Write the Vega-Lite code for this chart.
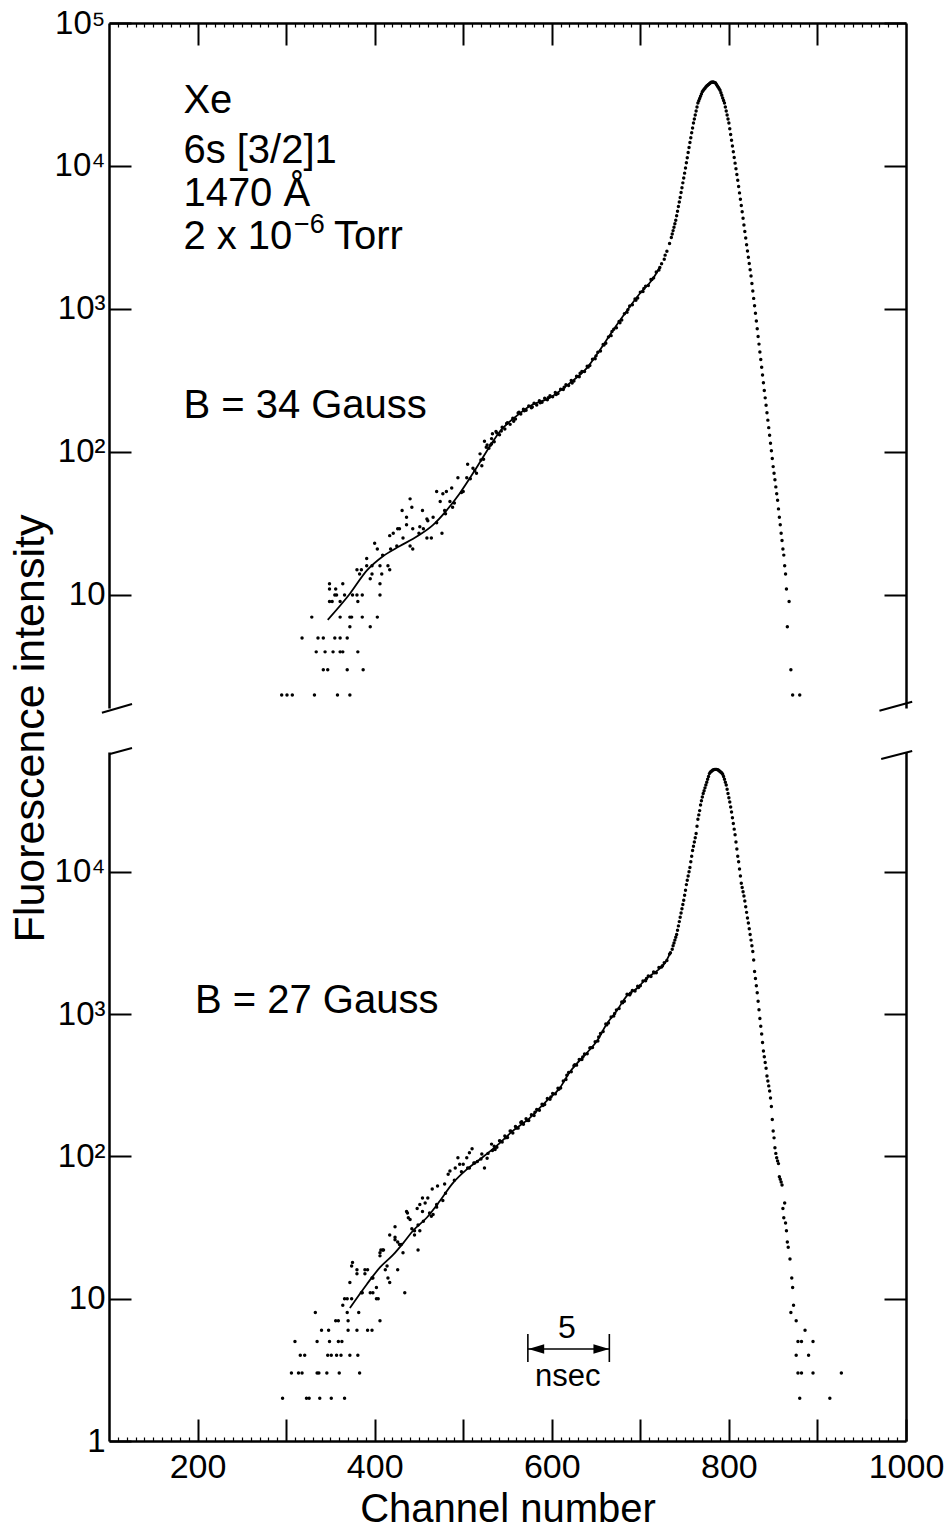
{
  "$schema": "https://vega.github.io/schema/vega-lite/v6.json",
  "background": "white",
  "padding": {"left": 9, "top": 7, "right": 5, "bottom": 5},
  "config": {
    "view": {"stroke": null},
    "font": "Liberation Sans",
    "axis": {
      "domainColor": "black", "domainWidth": 2.5, "tickColor": "black", "tickWidth": 2,
      "labelColor": "black", "titleColor": "black", "labelFont": "Liberation Sans", "titleFont": "Liberation Sans",
      "titleFontWeight": "normal", "grid": false, "labelFlush": false, "labelOverlap": false
    },
    "text": {"font": "Liberation Sans", "color": "black"}
  },
  "datasets": {
    "tp": [
      {"c":295,"v":2},{"c":301,"v":2},{"c":307,"v":2},{"c":332,"v":2},{"c":358,"v":2},{"c":372,"v":2},
      {"c":342,"v":3},{"c":347,"v":3},{"c":369,"v":3},{"c":387,"v":3},
      {"c":334,"v":4},{"c":344,"v":4},{"c":353,"v":4},{"c":361,"v":4},{"c":364,"v":4},{"c":381,"v":4},
      {"c":318,"v":5},{"c":336,"v":5},{"c":342,"v":5},{"c":355,"v":5},{"c":361,"v":5},{"c":369,"v":5},
      {"c":372,"v":6},{"c":395,"v":6},
      {"c":329,"v":7},{"c":361,"v":7},{"c":372,"v":7},{"c":374,"v":7},{"c":386,"v":7},{"c":403,"v":7},
      {"c":349,"v":9},{"c":361,"v":9},{"c":381,"v":9},{"c":352,"v":9},
      {"c":355,"v":10},{"c":357,"v":10},{"c":380,"v":10},{"c":386,"v":10},{"c":375,"v":10},{"c":366,"v":10},{"c":406,"v":10},
      {"c":349,"v":11},{"c":356,"v":11},{"c":406,"v":12},{"c":349,"v":12},{"c":364,"v":12},
      {"c":380,"v":15},{"c":383,"v":14},{"c":391,"v":16},{"c":397,"v":16},{"c":391,"v":18},{"c":403,"v":21},{"c":400,"v":23},
      {"c":395,"v":13},{"c":397,"v":14},{"c":406,"v":16},{"c":408,"v":14},{"c":415,"v":16},{"c":417,"v":15},{"c":409,"v":19},
      {"c":417,"v":26},{"c":421,"v":27},{"c":426,"v":29},{"c":428,"v":29},{"c":432,"v":25},{"c":436,"v":31},{"c":431,"v":39},
      {"c":440,"v":47},{"c":442,"v":41},{"c":436,"v":35},{"c":443,"v":29},{"c":443,"v":21},{"c":440,"v":22},{"c":451,"v":30},
      {"c":454,"v":39},{"c":459,"v":34},{"c":459,"v":25},{"c":464,"v":25},{"c":466,"v":35},{"c":470,"v":53},{"c":474,"v":45},
      {"c":477,"v":51},{"c":481,"v":53},{"c":485,"v":45},{"c":487,"v":56},{"c":476,"v":27},{"c":479,"v":39},{"c":488,"v":41},
      {"c":494,"v":66},{"c":500,"v":53},{"c":504,"v":66},{"c":511,"v":77},{"c":505,"v":82},{"c":519,"v":97},{"c":524,"v":119},
      {"c":532,"v":114},{"c":533,"v":134},{"c":515,"v":71},
      {"c":450,"v":27},{"c":460,"v":33},{"c":470,"v":32},{"c":480,"v":37},{"c":490,"v":44},{"c":498,"v":52},{"c":508,"v":65},
      {"c":513,"v":74},{"c":385,"v":15},{"c":418,"v":21},{"c":425,"v":22},{"c":455,"v":29},
      {"c":520,"v":88},{"c":523,"v":89},{"c":526,"v":108},{"c":529,"v":106},{"c":532,"v":124},{"c":535,"v":118},{"c":538,"v":136},
      {"c":541,"v":132},{"c":544,"v":149},{"c":547,"v":145},{"c":550,"v":160},{"c":553,"v":156},{"c":556,"v":172},{"c":559,"v":170},
      {"c":562,"v":187},{"c":565,"v":184},{"c":568,"v":199},{"c":571,"v":196},{"c":574,"v":210},{"c":577,"v":204},{"c":580,"v":219},
      {"c":583,"v":213},{"c":586,"v":228},{"c":589,"v":223},{"c":592,"v":238},{"c":595,"v":232},{"c":598,"v":247},{"c":601,"v":243},
      {"c":604,"v":261},{"c":607,"v":256},{"c":610,"v":275},{"c":613,"v":273},{"c":616,"v":295},{"c":619,"v":292},{"c":622,"v":316},
      {"c":625,"v":313},{"c":628,"v":339},{"c":631,"v":336},{"c":634,"v":366},{"c":637,"v":365},{"c":640,"v":398},{"c":643,"v":402},
      {"c":646,"v":445},{"c":649,"v":449},{"c":652,"v":499},{"c":655,"v":508},{"c":658,"v":564},{"c":661,"v":575},{"c":664,"v":638},
      {"c":667,"v":651},{"c":670,"v":722},{"c":673,"v":738},{"c":676,"v":818},{"c":679,"v":836},{"c":682,"v":926},{"c":685,"v":947},
      {"c":688,"v":1048},{"c":691,"v":1070},{"c":694,"v":1176},{"c":697,"v":1195},{"c":700,"v":1312},{"c":703,"v":1326},{"c":706,"v":1445},
      {"c":709,"v":1460},{"c":712,"v":1605},{"c":715,"v":1650},{"c":718,"v":1815},{"c":721,"v":1875},{"c":724,"v":2070},{"c":727,"v":2230},
      {"c":730,"v":2530},{"c":733,"v":2870},
      {"c":521,"v":80},{"c":527,"v":112},{"c":531,"v":112},{"c":537,"v":139},{"c":543,"v":140},{"c":549,"v":158},{"c":557,"v":164},
      {"c":563,"v":190},{"c":569,"v":194},{"c":578,"v":206},{"c":587,"v":221},{"c":596,"v":240},{"c":605,"v":252},{"c":614,"v":284},
      {"c":623,"v":304},{"c":632,"v":355},{"c":641,"v":392},{"c":650,"v":470},{"c":659,"v":560},{"c":668,"v":695},{"c":677,"v":800},
      {"c":686,"v":990},{"c":695,"v":1150},{"c":704,"v":1390},{"c":713,"v":1610},{"c":722,"v":1950},{"c":728,"v":2380},
      {"c":735,"v":3162},{"c":736,"v":3342},{"c":737,"v":3532},{"c":738,"v":3733},{"c":739,"v":3945},{"c":740,"v":4169},{"c":741,"v":4487},
      {"c":742,"v":4831},{"c":743,"v":5200},{"c":744,"v":5598},{"c":745,"v":6026},{"c":746,"v":6516},{"c":747,"v":7047},{"c":748,"v":7621},
      {"c":749,"v":8241},{"c":750,"v":8913},{"c":751,"v":9683},{"c":752,"v":10520},{"c":753,"v":11430},{"c":754,"v":12420},{"c":755,"v":13490},
      {"c":756,"v":14590},{"c":757,"v":15780},{"c":758,"v":17060},{"c":759,"v":18450},{"c":760,"v":19950},{"c":761,"v":21280},{"c":762,"v":22700},
      {"c":763,"v":24210},{"c":764,"v":25820},{"c":765,"v":27540},{"c":766,"v":28580},{"c":767,"v":29650},{"c":768,"v":30760},{"c":769,"v":31920},
      {"c":770,"v":33110},{"c":771,"v":33730},{"c":772,"v":34360},{"c":773,"v":34990},{"c":774,"v":35650},{"c":775,"v":36310},{"c":776,"v":36730},
      {"c":777,"v":37150},{"c":778,"v":37580},{"c":779,"v":38020},{"c":780,"v":38460},{"c":781,"v":38550},{"c":782,"v":38640},{"c":783,"v":38460},
      {"c":784,"v":38280},{"c":785,"v":38020},{"c":786,"v":37150},{"c":787,"v":36310},{"c":788,"v":35480},{"c":789,"v":34670},{"c":790,"v":33880},
      {"c":791,"v":32510},{"c":792,"v":31190},{"c":793,"v":29920},{"c":794,"v":28710},{"c":795,"v":27540},{"c":796,"v":25820},{"c":797,"v":24210},
      {"c":798,"v":22700},{"c":799,"v":21280},{"c":800,"v":19950},{"c":801,"v":18200},{"c":802,"v":16600},{"c":803,"v":15140},{"c":804,"v":13800},
      {"c":805,"v":12590},{"c":806,"v":11480},{"c":807,"v":10470},{"c":808,"v":9550},{"c":809,"v":8710},{"c":810,"v":7943},{"c":811,"v":7178},
      {"c":812,"v":6486},{"c":813,"v":5861},{"c":814,"v":5297},{"c":815,"v":4786},{"c":816,"v":4305},{"c":817,"v":3873},{"c":818,"v":3483},
      {"c":819,"v":3133},{"c":820,"v":2818},{"c":821,"v":2547},{"c":822,"v":2301},{"c":823,"v":2080},{"c":824,"v":1879},{"c":825,"v":1698},
      {"c":826,"v":1507},{"c":827,"v":1337},{"c":828,"v":1186},{"c":829,"v":1052},{"c":830,"v":933},{"c":831,"v":824},{"c":832,"v":728},
      {"c":833,"v":643},{"c":834,"v":568},{"c":835,"v":501},{"c":836,"v":443},{"c":837,"v":391},{"c":838,"v":345},{"c":839,"v":305},
      {"c":840,"v":269},{"c":841,"v":239},{"c":842,"v":212},{"c":843,"v":188},{"c":844,"v":167},{"c":845,"v":148},{"c":846,"v":131},
      {"c":847,"v":115},{"c":848,"v":102},{"c":849,"v":90},{"c":850,"v":79},{"c":851,"v":71},{"c":852,"v":64},{"c":853,"v":57},
      {"c":854,"v":51},{"c":855,"v":46},{"c":856,"v":40},{"c":857,"v":35},{"c":858,"v":31},{"c":859,"v":27},{"c":860,"v":24},
      {"c":861,"v":21},{"c":862,"v":19},{"c":863,"v":16},{"c":864,"v":14},
      {"c":865,"v":11},{"c":866,"v":6},{"c":868,"v":9},{"c":870,"v":3},{"c":872,"v":2},{"c":880,"v":2}
    ],
    "tf": [
      {"c":347,"v":6.7},{"c":372,"v":10.2},{"c":391,"v":14.8},{"c":409,"v":18.6},{"c":428,"v":21.9},{"c":448,"v":25.7},
      {"c":466,"v":30.9},{"c":481,"v":38.9},{"c":496,"v":51.3},{"c":515,"v":77.6},{"c":533,"v":117},{"c":541,"v":138},
      {"c":560,"v":178},{"c":575,"v":209},{"c":598,"v":240},{"c":620,"v":302},{"c":640,"v":389},{"c":654,"v":513},
      {"c":669,"v":708},{"c":685,"v":977},{"c":699,"v":1274},{"c":714,"v":1622},{"c":722,"v":1950}
    ],
    "bp": [
      {"c":296,"v":2},{"c":323,"v":2},{"c":326,"v":2},{"c":338,"v":2},{"c":351,"v":2},{"c":366,"v":2},
      {"c":306,"v":3},{"c":314,"v":3},{"c":318,"v":3},{"c":335,"v":3},{"c":337,"v":3},{"c":346,"v":3},{"c":360,"v":3},{"c":383,"v":3},
      {"c":316,"v":4},{"c":321,"v":4},{"c":347,"v":4},{"c":351,"v":4},{"c":357,"v":4},{"c":362,"v":4},{"c":372,"v":4},{"c":381,"v":4},
      {"c":310,"v":5},{"c":335,"v":5},{"c":349,"v":5},{"c":359,"v":5},{"c":363,"v":5},
      {"c":340,"v":6},{"c":348,"v":6},{"c":370,"v":6},{"c":380,"v":6},{"c":392,"v":6},{"c":397,"v":6},
      {"c":356,"v":7},{"c":359,"v":7},{"c":370,"v":7},{"c":406,"v":7},
      {"c":333,"v":8},{"c":369,"v":8},{"c":382,"v":8},{"c":364,"v":9},
      {"c":366,"v":10},{"c":369,"v":10},{"c":374,"v":10},{"c":402,"v":10},{"c":404,"v":10},
      {"c":386,"v":11},{"c":395,"v":11},{"c":398,"v":11},{"c":434,"v":11},{"c":385,"v":11},
      {"c":372,"v":13},{"c":375,"v":18},{"c":380,"v":16},{"c":389,"v":16},{"c":392,"v":16},{"c":397,"v":14},{"c":402,"v":12},
      {"c":415,"v":14},{"c":417,"v":13},{"c":412,"v":16},{"c":406,"v":20},{"c":409,"v":22},{"c":410,"v":22},{"c":417,"v":28},
      {"c":423,"v":27},{"c":426,"v":25},{"c":428,"v":24},{"c":436,"v":41},{"c":440,"v":36},{"c":442,"v":31},{"c":448,"v":43},
      {"c":449,"v":33},{"c":451,"v":30},{"c":449,"v":22},{"c":445,"v":28},{"c":454,"v":41},{"c":457,"v":47},{"c":460,"v":51},
      {"c":465,"v":59},{"c":466,"v":39},{"c":470,"v":44},{"c":477,"v":49},{"c":479,"v":64},{"c":471,"v":62},{"c":483,"v":75},
      {"c":491,"v":83},{"c":494,"v":98},{"c":500,"v":88},{"c":504,"v":98},{"c":505,"v":83},{"c":510,"v":113},{"c":513,"v":90},
      {"c":516,"v":92},{"c":521,"v":104},{"c":524,"v":83},{"c":527,"v":97},{"c":532,"v":122},{"c":533,"v":110},{"c":374,"v":17},
      {"c":380,"v":15},{"c":389,"v":15},{"c":406,"v":21},{"c":407,"v":22},{"c":414,"v":17},{"c":423,"v":32},{"c":423,"v":26},
      {"c":426,"v":16},{"c":432,"v":21},{"c":437,"v":40},{"c":438,"v":37},{"c":451,"v":46},{"c":454,"v":51},{"c":464,"v":38},
      {"c":485,"v":79},{"c":496,"v":88},{"c":507,"v":106},{"c":507,"v":83},
      {"c":398,"v":14},{"c":430,"v":24},{"c":445,"v":30},{"c":455,"v":35},{"c":462,"v":40},{"c":470,"v":46},{"c":480,"v":55},
      {"c":490,"v":68},{"c":498,"v":78},{"c":512,"v":90},{"c":520,"v":96},{"c":528,"v":105},
      {"c":535,"v":118},{"c":538,"v":116},{"c":541,"v":129},{"c":544,"v":126},{"c":547,"v":139},{"c":550,"v":136},{"c":553,"v":151},
      {"c":556,"v":146},{"c":559,"v":162},{"c":562,"v":158},{"c":565,"v":173},{"c":568,"v":168},{"c":571,"v":184},{"c":574,"v":179},
      {"c":577,"v":196},{"c":580,"v":194},{"c":583,"v":214},{"c":586,"v":211},{"c":589,"v":233},{"c":592,"v":232},{"c":595,"v":255},
      {"c":598,"v":252},{"c":601,"v":277},{"c":604,"v":275},{"c":607,"v":301},{"c":610,"v":302},{"c":613,"v":339},{"c":616,"v":347},
      {"c":619,"v":389},{"c":622,"v":394},{"c":625,"v":434},{"c":628,"v":438},{"c":631,"v":479},{"c":634,"v":479},{"c":637,"v":525},
      {"c":640,"v":526},{"c":643,"v":578},{"c":646,"v":582},{"c":649,"v":640},{"c":652,"v":648},{"c":655,"v":730},{"c":658,"v":755},
      {"c":661,"v":851},{"c":664,"v":865},{"c":667,"v":954},{"c":670,"v":968},{"c":673,"v":1071},{"c":676,"v":1094},{"c":679,"v":1216},
      {"c":682,"v":1233},{"c":685,"v":1380},{"c":688,"v":1365},{"c":691,"v":1468},{"c":694,"v":1453},{"c":697,"v":1570},{"c":700,"v":1580},
      {"c":703,"v":1712},{"c":706,"v":1718},{"c":709,"v":1855},{"c":712,"v":1838},{"c":715,"v":1975},{"c":718,"v":1955},{"c":721,"v":2125},
      {"c":724,"v":2140},{"c":727,"v":2300},{"c":730,"v":2380},{"c":733,"v":2640},{"c":736,"v":2860},
      {"c":536,"v":112},{"c":542,"v":128},{"c":548,"v":135},{"c":554,"v":150},{"c":560,"v":158},{"c":566,"v":175},{"c":572,"v":179},
      {"c":581,"v":204},{"c":590,"v":228},{"c":599,"v":262},{"c":608,"v":296},{"c":617,"v":372},{"c":626,"v":441},{"c":635,"v":500},
      {"c":644,"v":580},{"c":653,"v":690},{"c":662,"v":840},{"c":671,"v":1010},{"c":680,"v":1200},{"c":689,"v":1400},{"c":698,"v":1540},
      {"c":707,"v":1780},{"c":716,"v":1950},{"c":725,"v":2190},{"c":734,"v":2700},
      {"c":737,"v":3020},{"c":738,"v":3162},{"c":739,"v":3311},{"c":740,"v":3467},{"c":741,"v":3631},{"c":742,"v":3890},{"c":743,"v":4169},
      {"c":744,"v":4467},{"c":745,"v":4786},{"c":746,"v":5129},{"c":747,"v":5495},{"c":748,"v":5888},{"c":749,"v":6310},{"c":750,"v":6839},
      {"c":751,"v":7413},{"c":752,"v":8128},{"c":753,"v":8710},{"c":754,"v":9333},{"c":755,"v":10000},{"c":756,"v":10720},{"c":757,"v":11750},
      {"c":758,"v":12880},{"c":759,"v":14130},{"c":760,"v":15140},{"c":761,"v":16220},{"c":762,"v":17380},{"c":763,"v":18620},{"c":764,"v":20890},
      {"c":765,"v":23440},{"c":766,"v":25120},{"c":767,"v":26920},{"c":768,"v":29510},{"c":769,"v":31620},{"c":770,"v":33500},{"c":771,"v":35480},
      {"c":772,"v":37150},{"c":773,"v":38900},{"c":774,"v":40740},{"c":775,"v":42660},{"c":776,"v":44670},{"c":777,"v":46770},{"c":778,"v":48980},
      {"c":779,"v":50120},{"c":780,"v":50700},{"c":781,"v":51290},{"c":782,"v":51880},{"c":783,"v":52240},{"c":784,"v":52480},{"c":785,"v":52480},
      {"c":786,"v":52480},{"c":787,"v":52240},{"c":788,"v":51880},{"c":789,"v":51290},{"c":790,"v":50700},{"c":791,"v":50120},{"c":792,"v":49550},
      {"c":793,"v":48420},{"c":794,"v":46770},{"c":795,"v":44670},{"c":796,"v":42660},{"c":797,"v":40740},{"c":798,"v":38020},{"c":799,"v":35480},
      {"c":800,"v":33110},{"c":801,"v":30900},{"c":802,"v":28510},{"c":803,"v":26300},{"c":804,"v":23990},{"c":805,"v":21880},{"c":806,"v":19950},
      {"c":807,"v":18200},{"c":808,"v":16220},{"c":809,"v":14450},{"c":810,"v":12880},{"c":811,"v":11750},{"c":812,"v":10470},{"c":813,"v":9333},
      {"c":814,"v":8318},{"c":815,"v":7762},{"c":816,"v":7244},{"c":817,"v":6761},{"c":818,"v":6237},{"c":819,"v":5689},{"c":820,"v":5188},
      {"c":821,"v":4732},{"c":822,"v":4365},{"c":823,"v":3981},{"c":824,"v":3631},{"c":825,"v":3311},{"c":826,"v":3020},{"c":827,"v":2754},
      {"c":828,"v":2399},{"c":829,"v":1995},{"c":830,"v":1778},{"c":831,"v":1585},{"c":832,"v":1413},{"c":833,"v":1230},{"c":834,"v":1072},
      {"c":835,"v":933},{"c":836,"v":822},{"c":837,"v":724},{"c":838,"v":631},{"c":839,"v":550},{"c":840,"v":501},{"c":841,"v":457},
      {"c":842,"v":417},{"c":843,"v":367},{"c":844,"v":339},{"c":845,"v":313},{"c":846,"v":288},{"c":847,"v":257},{"c":848,"v":224},
      {"c":849,"v":182},{"c":850,"v":151},{"c":851,"v":135},{"c":852,"v":115},{"c":853,"v":105},{"c":854,"v":98},{"c":855,"v":93},
      {"c":856,"v":89},{"c":857,"v":72},{"c":858,"v":69},{"c":859,"v":66},{"c":860,"v":63},{"c":861,"v":43},{"c":862,"v":37},
      {"c":863,"v":47},{"c":864,"v":34},{"c":865,"v":30},{"c":866,"v":25},{"c":867,"v":23},{"c":869,"v":19},{"c":871,"v":14},{"c":872,"v":12},
      {"c":873,"v":9},{"c":870,"v":8},{"c":876,"v":7},{"c":886,"v":6},{"c":878,"v":5},{"c":882,"v":5},{"c":895,"v":5},
      {"c":876,"v":4},{"c":890,"v":4},{"c":878,"v":3},{"c":882,"v":3},{"c":895,"v":3},{"c":927,"v":3},{"c":880,"v":2},{"c":914,"v":2}
    ],
    "bf": [
      {"c":372,"v":8.6},{"c":391,"v":12.6},{"c":406,"v":16.6},{"c":421,"v":20.4},{"c":432,"v":24.5},{"c":443,"v":29.9},
      {"c":459,"v":37.2},{"c":474,"v":49},{"c":488,"v":64.6},{"c":504,"v":81},{"c":519,"v":95.5},{"c":538,"v":119},
      {"c":556,"v":151},{"c":575,"v":186},{"c":594,"v":245},{"c":609,"v":302},{"c":620,"v":389},{"c":628,"v":447},
      {"c":640,"v":537},{"c":651,"v":646},{"c":662,"v":851},{"c":673,"v":1047},{"c":685,"v":1349},{"c":696,"v":1514},
      {"c":707,"v":1778},{"c":718,"v":1995},{"c":728,"v":2291},{"c":733,"v":2630}
    ]
  },
  "spacing": 44,
  "bounds": "flush",
  "resolve": {"scale": {"x": "independent", "y": "independent"}},
  "vconcat": [
    {
      "width": 797,
      "height": 685,
      "resolve": {"axis": {"x": "independent", "y": "independent"}},
      "layer": [
        {
          "data": {"name": "tp"},
          "mark": {"type": "circle", "size": 12, "color": "black", "opacity": 1},
          "encoding": {
            "x": {"field": "c", "type": "quantitative",
              "scale": {"type": "linear", "domain": [100, 1000], "nice": false, "zero": false},
              "axis": {"orient": "top", "values": [200, 300, 400, 500, 600, 700, 800, 900], "labels": false, "title": null, "tickSize": -22}},
            "y": {"field": "v", "type": "quantitative",
              "scale": {"type": "log", "domain": [1.62, 100000], "nice": false},
              "axis": {"orient": "left", "values": [10, 100, 1000, 10000, 100000], "tickSize": -22, "labelPadding": 26, "labelFontSize": 33,
                "labelExpr": "datum.value == 1 ? '1' : datum.value == 10 ? '10' : datum.value == 100 ? '10²' : datum.value == 1000 ? '10³' : datum.value == 10000 ? '10⁴' : '10⁵'",
                "title": "Fluorescence  intensity", "titleFontSize": 43, "titleAngle": 270, "titleX": -66, "titleY": 705,
                "titleAlign": "center", "titleBaseline": "alphabetic", "titleAnchor": null}}
          }
        },
        {
          "data": {"name": "tf"},
          "mark": {"type": "line", "color": "black", "strokeWidth": 1.8, "interpolate": "monotone"},
          "encoding": {
            "x": {"field": "c", "type": "quantitative", "scale": {"type": "linear", "domain": [100, 1000], "nice": false, "zero": false},
              "axis": {"orient": "top", "labels": false, "domain": false, "title": null, "tickSize": -4, "tickWidth": 1.2,
                "values": [110,120,130,140,150,160,170,180,190,210,220,230,240,250,260,270,280,290,310,320,330,340,350,360,370,380,390,410,420,430,440,450,460,470,480,490,510,520,530,540,550,560,570,580,590,610,620,630,640,650,660,670,680,690,710,720,730,740,750,760,770,780,790,810,820,830,840,850,860,870,880,890,910,920,930,940,950,960,970,980,990]}},
            "y": {"field": "v", "type": "quantitative", "scale": {"type": "log", "domain": [1.62, 100000], "nice": false},
              "axis": {"orient": "right", "values": [10, 100, 1000, 10000, 100000], "labels": false, "tickSize": -22, "title": null}}
          }
        },
        {
          "data": {"values": [{}]},
          "mark": {"type": "text", "text": "Xe", "fontSize": 40, "align": "left", "baseline": "alphabetic"},
          "encoding": {
            "x": {"datum": 184, "type": "quantitative", "scale": {"type": "linear", "domain": [100, 1000], "nice": false, "zero": false}, "axis": null},
            "y": {"datum": 23500, "type": "quantitative", "scale": {"type": "log", "domain": [1.62, 100000], "nice": false}, "axis": null}
          }
        },
        {
          "data": {"values": [{}]},
          "mark": {"type": "text", "text": "6s [3/2]1", "fontSize": 40, "align": "left", "baseline": "alphabetic"},
          "encoding": {
            "x": {"datum": 184, "type": "quantitative", "scale": {"type": "linear", "domain": [100, 1000], "nice": false, "zero": false}, "axis": null},
            "y": {"datum": 10500, "type": "quantitative", "scale": {"type": "log", "domain": [1.62, 100000], "nice": false}, "axis": null}
          }
        },
        {
          "data": {"values": [{}]},
          "mark": {"type": "text", "text": "1470 Å", "fontSize": 40, "align": "left", "baseline": "alphabetic"},
          "encoding": {
            "x": {"datum": 184, "type": "quantitative", "scale": {"type": "linear", "domain": [100, 1000], "nice": false, "zero": false}, "axis": null},
            "y": {"datum": 5250, "type": "quantitative", "scale": {"type": "log", "domain": [1.62, 100000], "nice": false}, "axis": null}
          }
        },
        {
          "data": {"values": [{}]},
          "mark": {"type": "text", "text": "2 x 10", "fontSize": 40, "align": "left", "baseline": "alphabetic"},
          "encoding": {
            "x": {"datum": 184, "type": "quantitative", "scale": {"type": "linear", "domain": [100, 1000], "nice": false, "zero": false}, "axis": null},
            "y": {"datum": 2630, "type": "quantitative", "scale": {"type": "log", "domain": [1.62, 100000], "nice": false}, "axis": null}
          }
        },
        {
          "data": {"values": [{}]},
          "mark": {"type": "text", "text": "−6", "fontSize": 27, "align": "left", "baseline": "alphabetic"},
          "encoding": {
            "x": {"datum": 309, "type": "quantitative", "scale": {"type": "linear", "domain": [100, 1000], "nice": false, "zero": false}, "axis": null},
            "y": {"datum": 3400, "type": "quantitative", "scale": {"type": "log", "domain": [1.62, 100000], "nice": false}, "axis": null}
          }
        },
        {
          "data": {"values": [{}]},
          "mark": {"type": "text", "text": "Torr", "fontSize": 40, "align": "left", "baseline": "alphabetic"},
          "encoding": {
            "x": {"datum": 354, "type": "quantitative", "scale": {"type": "linear", "domain": [100, 1000], "nice": false, "zero": false}, "axis": null},
            "y": {"datum": 2630, "type": "quantitative", "scale": {"type": "log", "domain": [1.62, 100000], "nice": false}, "axis": null}
          }
        },
        {
          "data": {"values": [{}]},
          "mark": {"type": "text", "text": "B = 34 Gauss", "fontSize": 40, "align": "left", "baseline": "alphabetic"},
          "encoding": {
            "x": {"datum": 184, "type": "quantitative", "scale": {"type": "linear", "domain": [100, 1000], "nice": false, "zero": false}, "axis": null},
            "y": {"datum": 173, "type": "quantitative", "scale": {"type": "log", "domain": [1.62, 100000], "nice": false}, "axis": null}
          }
        },
        {
          "data": {"values": [{}]},
          "mark": {"type": "rule", "color": "black", "strokeWidth": 2},
          "encoding": {
            "x": {"datum": 92, "type": "quantitative", "scale": {"type": "linear", "domain": [100, 1000], "nice": false, "zero": false}, "axis": null},
            "x2": {"datum": 126},
            "y": {"datum": 1.5, "type": "quantitative", "scale": {"type": "log", "domain": [1.62, 100000], "nice": false}, "axis": null},
            "y2": {"datum": 1.73}
          }
        },
        {
          "data": {"values": [{}]},
          "mark": {"type": "rule", "color": "black", "strokeWidth": 2},
          "encoding": {
            "x": {"datum": 970, "type": "quantitative", "scale": {"type": "linear", "domain": [100, 1000], "nice": false, "zero": false}, "axis": null},
            "x2": {"datum": 1007},
            "y": {"datum": 1.55, "type": "quantitative", "scale": {"type": "log", "domain": [1.62, 100000], "nice": false}, "axis": null},
            "y2": {"datum": 1.79}
          }
        }
      ]
    },
    {
      "width": 797,
      "height": 689,
      "resolve": {"axis": {"x": "independent", "y": "independent"}},
      "layer": [
        {
          "data": {"name": "bp"},
          "mark": {"type": "circle", "size": 12, "color": "black", "opacity": 1},
          "encoding": {
            "x": {"field": "c", "type": "quantitative",
              "scale": {"type": "linear", "domain": [100, 1000], "nice": false, "zero": false},
              "axis": {"orient": "bottom", "values": [200, 300, 400, 500, 600, 700, 800, 900, 1000], "tickSize": -22, "labelPadding": 31, "labelFontSize": 34,
                "labelBaseline": "top",
                "labelExpr": "datum.value % 200 == 0 ? '' + datum.value : ''",
                "title": "Channel number", "titleFontSize": 40, "titleBaseline": "alphabetic", "titleY": 80}},
            "y": {"field": "v", "type": "quantitative",
              "scale": {"type": "log", "domain": [1, 69500], "nice": false},
              "axis": {"orient": "left", "values": [1, 10, 100, 1000, 10000], "tickSize": -22, "labelPadding": 26, "labelFontSize": 33,
                "labelExpr": "datum.value == 1 ? '1' : datum.value == 10 ? '10' : datum.value == 100 ? '10²' : datum.value == 1000 ? '10³' : datum.value == 10000 ? '10⁴' : '10⁵'",
                "title": null}}
          }
        },
        {
          "data": {"name": "bf"},
          "mark": {"type": "line", "color": "black", "strokeWidth": 1.8, "interpolate": "monotone"},
          "encoding": {
            "x": {"field": "c", "type": "quantitative", "scale": {"type": "linear", "domain": [100, 1000], "nice": false, "zero": false},
              "axis": {"orient": "bottom", "labels": false, "domain": false, "title": null, "tickSize": -4, "tickWidth": 1.2,
                "values": [110,120,130,140,150,160,170,180,190,210,220,230,240,250,260,270,280,290,310,320,330,340,350,360,370,380,390,410,420,430,440,450,460,470,480,490,510,520,530,540,550,560,570,580,590,610,620,630,640,650,660,670,680,690,710,720,730,740,750,760,770,780,790,810,820,830,840,850,860,870,880,890,910,920,930,940,950,960,970,980,990]}},
            "y": {"field": "v", "type": "quantitative", "scale": {"type": "log", "domain": [1, 69500], "nice": false},
              "axis": {"orient": "right", "values": [10, 100, 1000, 10000], "labels": false, "tickSize": -22, "title": null}}
          }
        },
        {
          "data": {"values": [{}]},
          "mark": {"type": "text", "text": "B = 27 Gauss", "fontSize": 40, "align": "left", "baseline": "alphabetic"},
          "encoding": {
            "x": {"datum": 197, "type": "quantitative", "scale": {"type": "linear", "domain": [100, 1000], "nice": false, "zero": false}, "axis": null},
            "y": {"datum": 1018, "type": "quantitative", "scale": {"type": "log", "domain": [1, 69500], "nice": false}, "axis": null}
          }
        },
        {
          "data": {"values": [{}]},
          "mark": {"type": "text", "text": "5", "fontSize": 32, "align": "center", "baseline": "alphabetic"},
          "encoding": {
            "x": {"datum": 617, "type": "quantitative", "scale": {"type": "linear", "domain": [100, 1000], "nice": false, "zero": false}, "axis": null},
            "y": {"datum": 5.3, "type": "quantitative", "scale": {"type": "log", "domain": [1, 69500], "nice": false}, "axis": null}
          }
        },
        {
          "data": {"values": [{}]},
          "mark": {"type": "text", "text": "nsec", "fontSize": 31, "align": "center", "baseline": "alphabetic"},
          "encoding": {
            "x": {"datum": 618, "type": "quantitative", "scale": {"type": "linear", "domain": [100, 1000], "nice": false, "zero": false}, "axis": null},
            "y": {"datum": 2.44, "type": "quantitative", "scale": {"type": "log", "domain": [1, 69500], "nice": false}, "axis": null}
          }
        },
        {
          "data": {"values": [{}]},
          "mark": {"type": "rule", "color": "black", "strokeWidth": 1.6},
          "encoding": {
            "x": {"datum": 573, "type": "quantitative", "scale": {"type": "linear", "domain": [100, 1000], "nice": false, "zero": false}, "axis": null},
            "x2": {"datum": 665},
            "y": {"datum": 4.43, "type": "quantitative", "scale": {"type": "log", "domain": [1, 69500], "nice": false}, "axis": null}
          }
        },
        {
          "data": {"values": [{}]},
          "mark": {"type": "rule", "color": "black", "strokeWidth": 1.6},
          "encoding": {
            "x": {"datum": 573, "type": "quantitative", "scale": {"type": "linear", "domain": [100, 1000], "nice": false, "zero": false}, "axis": null},
            "y": {"datum": 3.59, "type": "quantitative", "scale": {"type": "log", "domain": [1, 69500], "nice": false}, "axis": null},
            "y2": {"datum": 5.65}
          }
        },
        {
          "data": {"values": [{}]},
          "mark": {"type": "rule", "color": "black", "strokeWidth": 1.6},
          "encoding": {
            "x": {"datum": 665, "type": "quantitative", "scale": {"type": "linear", "domain": [100, 1000], "nice": false, "zero": false}, "axis": null},
            "y": {"datum": 3.59, "type": "quantitative", "scale": {"type": "log", "domain": [1, 69500], "nice": false}, "axis": null},
            "y2": {"datum": 5.65}
          }
        },
        {
          "data": {"values": [{}]},
          "mark": {"type": "point", "shape": "M-1,0L1,-0.6L1,0.6Z", "size": 250, "filled": true, "color": "black", "opacity": 1},
          "encoding": {
            "x": {"datum": 582.5, "type": "quantitative", "scale": {"type": "linear", "domain": [100, 1000], "nice": false, "zero": false}, "axis": null},
            "y": {"datum": 4.43, "type": "quantitative", "scale": {"type": "log", "domain": [1, 69500], "nice": false}, "axis": null}
          }
        },
        {
          "data": {"values": [{}]},
          "mark": {"type": "point", "shape": "M1,0L-1,-0.6L-1,0.6Z", "size": 250, "filled": true, "color": "black", "opacity": 1},
          "encoding": {
            "x": {"datum": 656, "type": "quantitative", "scale": {"type": "linear", "domain": [100, 1000], "nice": false, "zero": false}, "axis": null},
            "y": {"datum": 4.43, "type": "quantitative", "scale": {"type": "log", "domain": [1, 69500], "nice": false}, "axis": null}
          }
        },
        {
          "data": {"values": [{}]},
          "mark": {"type": "rule", "color": "black", "strokeWidth": 2},
          "encoding": {
            "x": {"datum": 101, "type": "quantitative", "scale": {"type": "linear", "domain": [100, 1000], "nice": false, "zero": false}, "axis": null},
            "x2": {"datum": 126},
            "y": {"datum": 67300, "type": "quantitative", "scale": {"type": "log", "domain": [1, 69500], "nice": false}, "axis": null},
            "y2": {"datum": 74100}
          }
        },
        {
          "data": {"values": [{}]},
          "mark": {"type": "rule", "color": "black", "strokeWidth": 2},
          "encoding": {
            "x": {"datum": 972, "type": "quantitative", "scale": {"type": "linear", "domain": [100, 1000], "nice": false, "zero": false}, "axis": null},
            "x2": {"datum": 1007},
            "y": {"datum": 62100, "type": "quantitative", "scale": {"type": "log", "domain": [1, 69500], "nice": false}, "axis": null},
            "y2": {"datum": 70600}
          }
        }
      ]
    }
  ]
}
